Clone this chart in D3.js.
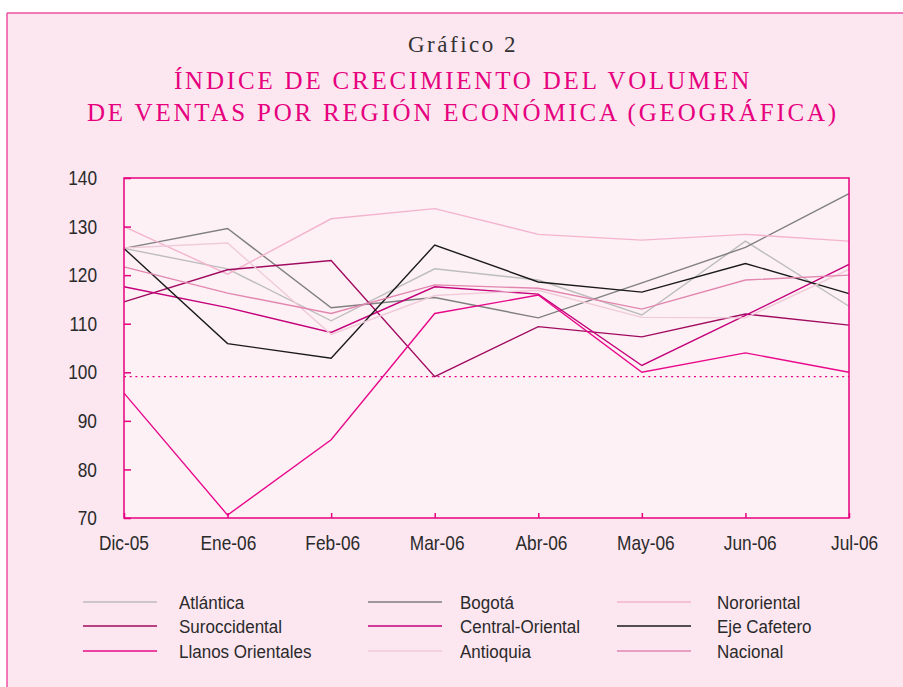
<html>
<head>
<meta charset="utf-8">
<script src="https://d3js.org/d3.v7.min.js"></script>
<style>
body { margin: 0; background: #fff; }
svg { display: block; }
</style>
</head>
<body>
<svg width="903" height="687"></svg>
<script>
// meses del eje x
var months = ["Dic-05", "Ene-06", "Feb-06", "Mar-06", "Abr-06", "May-06", "Jun-06", "Jul-06"];
var yTicks = [70, 80, 90, 100, 110, 120, 130, 140];
var refValue = 99.1;

// series (indice)
var atlantica       = [125.5, 121.3, 110.6, 121.3, 119.0, 111.8, 127.0, 113.6];
var bogota          = [125.5, 129.6, 113.3, 115.4, 111.2, 118.4, 125.7, 136.8];
var nororiental     = [130.0, 120.2, 131.6, 133.7, 128.4, 127.2, 128.4, 127.0];
var suroccidental   = [114.5, 121.1, 123.0, 99.1, 109.4, 107.3, 112.0, 109.7];
var centralOriental = [117.6, 113.3, 108.2, 117.6, 116.1, 101.4, 111.7, 122.2];
var ejeCafetero     = [125.5, 105.9, 102.9, 126.2, 118.6, 116.5, 122.4, 116.2];
var llanos          = [95.7, 70.6, 86.1, 112.1, 115.9, 100.0, 104.0, 100.0];
var antioquia       = [125.6, 126.6, 107.8, 115.8, 116.9, 111.3, 111.2, 121.2];
var nacional        = [121.7, 116.3, 112.1, 118.0, 117.3, 113.0, 119.0, 120.0];

var names = ["Atlántica", "Bogotá", "Nororiental", "Suroccidental", "Central-Oriental",
             "Eje Cafetero", "Llanos Orientales", "Antioquia", "Nacional"];
var values = [atlantica, bogota, nororiental, suroccidental, centralOriental,
              ejeCafetero, llanos, antioquia, nacional];
var colors = ["#bdbdbd", "#7f7f7f", "#f4b3cd", "#a00a5f", "#c4007a",
              "#1a1a1a", "#e8098a", "#f0cbd9", "#e286b0"];

var svg = d3.select("svg");
var pink = "#e6007e";
var sans = "'Liberation Sans', Arial, sans-serif";

// panel de fondo
svg.append("rect").attr("x", 7).attr("y", 13).attr("width", 903).attr("height", 687)
  .style("fill", "#fce6f0");
svg.append("line").attr("x1", 7).attr("x2", 903).attr("y1", 13).attr("y2", 13)
  .style("stroke", "#ee4fa3").style("stroke-width", 1.5);
svg.append("line").attr("x1", 7).attr("x2", 7).attr("y1", 13).attr("y2", 687)
  .style("stroke", "#ee4fa3").style("stroke-width", 1.5);

// titulos
svg.append("text").attr("x", 463).attr("y", 52).attr("text-anchor", "middle")
  .style("font-family", "'Liberation Serif', serif").style("font-size", "23px")
  .style("letter-spacing", "2.5px").style("fill", "#333")
  .text("Gráfico 2");
var titleLines = ["ÍNDICE DE CRECIMIENTO DEL VOLUMEN", "DE VENTAS POR REGIÓN ECONÓMICA (GEOGRÁFICA)"];
svg.selectAll(".title").data(titleLines).enter().append("text")
  .attr("class", "title")
  .attr("x", 463).attr("y", function(d, i) { return 89 + i * 32; })
  .attr("text-anchor", "middle")
  .style("font-family", "'Liberation Serif', serif").style("font-size", "25px")
  .style("letter-spacing", "2.8px").style("fill", pink)
  .text(function(d) { return d; });

// escalas
var x = d3.scalePoint().domain(months).range([124, 849]);
var y = d3.scaleLinear().domain([70, 140]).range([518, 178]);

svg.append("rect").attr("x", 124).attr("y", 178).attr("width", 725).attr("height", 340)
  .style("fill", "#fdf1f6");

// linea punteada de referencia
svg.append("line")
  .attr("x1", x.range()[0]).attr("x2", x.range()[1])
  .attr("y1", y(refValue)).attr("y2", y(refValue))
  .style("stroke", pink).style("stroke-width", 1.2).style("stroke-dasharray", "2,3.7");

// series
var line = d3.line().x(function(d, i) { return x(months[i]); }).y(function(d) { return y(d); });
values.forEach(function(v, i) {
  svg.append("path").attr("d", line(v))
    .style("fill", "none").style("stroke", colors[i]).style("stroke-width", 1.4);
});

// marco y ejes
svg.append("rect").attr("x", 124).attr("y", 178).attr("width", 725).attr("height", 340)
  .style("fill", "none").style("stroke", pink).style("stroke-width", 1.5);

var yAxis = svg.append("g").attr("transform", "translate(124,0)")
  .call(d3.axisRight(y).tickValues(yTicks).tickSize(7).tickFormat(""));
yAxis.select(".domain").remove();
yAxis.selectAll("line").style("stroke", pink).style("stroke-width", 1.5);

var xAxis = svg.append("g").attr("transform", "translate(0,518)")
  .call(d3.axisTop(x).tickSize(5).tickFormat(""));
xAxis.select(".domain").remove();
xAxis.selectAll("line").style("stroke", pink).style("stroke-width", 1.5);

// texto condensado: escala horizontal
svg.selectAll(".ylab").data(yTicks).enter().append("text")
  .attr("transform", function(d) { return "translate(97," + y(d) + ") scale(0.865,1)"; })
  .attr("dy", "0.36em")
  .attr("text-anchor", "end")
  .style("font-family", sans).style("font-size", "20px").style("fill", "#2a2a2a")
  .text(function(d) { return d; });

svg.selectAll(".xlab").data(months).enter().append("text")
  .attr("transform", function(d, i) { return "translate(" + (x(d) + i * 0.8) + ",550) scale(0.865,1)"; })
  .attr("text-anchor", "middle")
  .style("font-family", sans).style("font-size", "20px").style("fill", "#2a2a2a")
  .text(function(d) { return d; });

// leyenda (3 columnas)
var legCol = [83, 368, 617];
var legText = [179, 460, 717];
var legRow = [602, 626, 651];
names.forEach(function(n, i) {
  var c = i % 3, cy = legRow[Math.floor(i / 3)];
  svg.append("line").attr("x1", legCol[c]).attr("x2", legCol[c] + 74).attr("y1", cy).attr("y2", cy)
    .style("stroke", colors[i]).style("stroke-width", 1.5);
  svg.append("text")
    .attr("transform", "translate(" + legText[c] + "," + cy + ") scale(0.92,1)")
    .attr("dy", "0.36em")
    .style("font-family", sans).style("font-size", "18.5px")
    .style("fill", "#2a2a2a").text(n);
});
</script>
</body>
</html>
